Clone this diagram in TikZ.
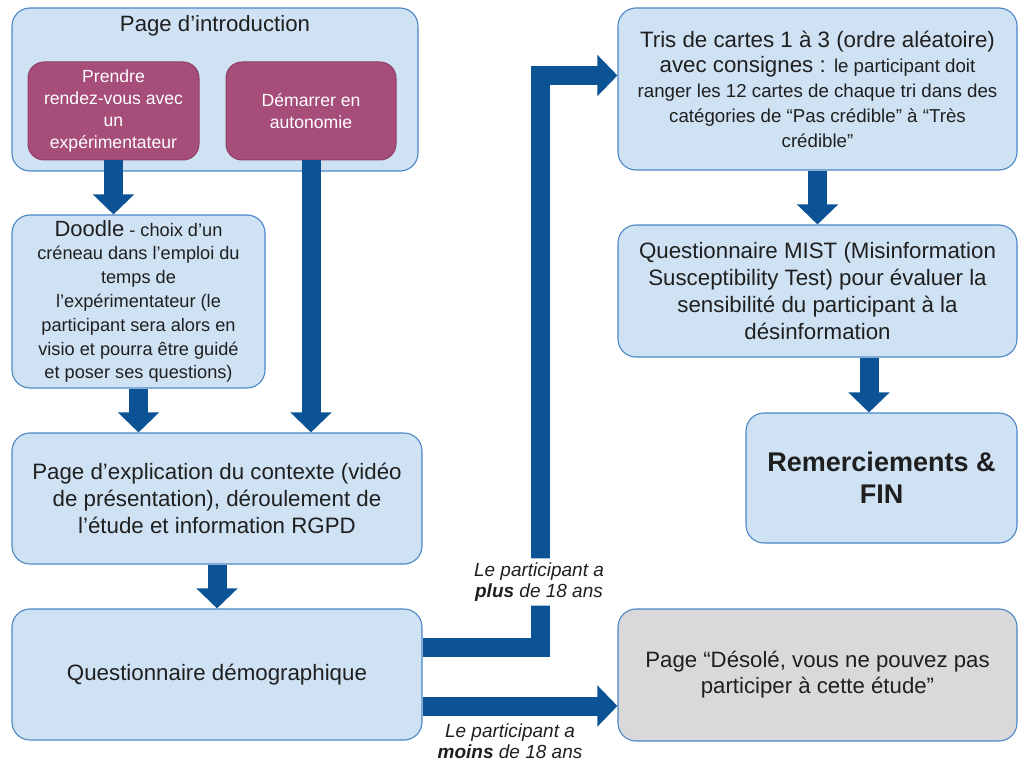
\documentclass[tikz,border=0pt]{standalone}
\usepackage{fontspec}
\setmainfont{Liberation Sans}
\usetikzlibrary{arrows.meta,calc}
\definecolor{boxfill}{HTML}{CFE2F3}
\definecolor{boxline}{HTML}{4A86C5}
\definecolor{purp}{HTML}{A64D79}
\definecolor{purpline}{HTML}{8E3F66}
\definecolor{grayfill}{HTML}{D9D9D9}
\definecolor{arrowblue}{HTML}{0B5394}
\definecolor{txt}{HTML}{1F1F1F}
\newcommand{\mainsz}{\fontsize{22.3}{27}\selectfont}
\newcommand{\smallsz}{\fontsize{18.7}{22.5}\selectfont}
\begin{document}
\begin{tikzpicture}[x=1pt,y=-1pt,
  box/.style={draw=boxline, line width=1.1pt, fill=boxfill, rounded corners=18pt,
    inner sep=0pt, align=center, text=txt, font=\mainsz},
  pbox/.style={draw=purpline, line width=1pt, fill=purp, rounded corners=16pt,
    inner sep=0pt, align=center, text=white, font=\fontsize{17.6}{22}\selectfont},
  gbox/.style={box, fill=grayfill},
  fat/.style={draw=arrowblue, line width=19pt, line cap=butt, line join=miter,
    -{Triangle[width=40pt,length=20pt]}},
  lbl/.style={fill=white, rounded corners=6pt, inner xsep=8pt, inner ysep=4pt,
    align=center, text=txt, font=\itshape\fontsize{19}{21.5}\selectfont}
]
\useasboundingbox (0,0) rectangle (1019,762);
\fill[white] (0,0) rectangle (1019,762);

% left column
\node[box, minimum width=406pt, minimum height=163pt] (intro) at (215,89.5) {};
\node[text=txt, font=\fontsize{22.2}{26}\selectfont] (introtitle) at (215,25.5) {Page d’introduction};
\node[pbox, minimum width=171pt, minimum height=98pt] (prendre) at (113.5,111)
  {Prendre\\rendez-vous avec\\un\\expérimentateur};
\node[pbox, minimum width=170pt, minimum height=98pt] (demarrer) at (311,111)
  {Démarrer en\\autonomie};
\node[box, minimum width=253pt, minimum height=173pt, font=\fontsize{18.2}{23.8}\selectfont] (doodle) at (138.5,301.5)
  {{\fontsize{22}{24}\selectfont Doodle} - choix d’un\\créneau dans l’emploi du\\temps de\\l’expérimentateur (le\\participant sera alors en\\visio et pourra être guidé\\et poser ses questions)};
\node[box, minimum width=410pt, minimum height=131pt] (explic) at (217,498.5)
  {Page d’explication du contexte (vidéo\\de présentation), déroulement de\\l’étude et information RGPD};
\node[box, minimum width=410pt, minimum height=131pt] (demo) at (217,674.5)
  {Questionnaire démographique};

% right column
\node[box, minimum width=399pt, minimum height=162pt, font=\fontsize{22.3}{25}\selectfont] (tris) at (817.5,89)
  {Tris de cartes 1 à 3 (ordre aléatoire)\\avec consignes : {\smallsz le participant doit}\\{\smallsz ranger les 12 cartes de chaque tri dans des}\\{\smallsz catégories de “Pas crédible” à “Très}\\{\smallsz crédible”}};
\node[box, minimum width=399pt, minimum height=132pt] (mist) at (817.5,291)
  {Questionnaire MIST (Misinformation\\Susceptibility Test) pour évaluer la\\sensibilité du participant à la\\désinformation};
\node[box, minimum width=271pt, minimum height=130pt, font=\bfseries\fontsize{27}{32}\selectfont] (remerc) at (881.5,478)
  {Remerciements \&\\FIN};
\node[gbox, minimum width=399pt, minimum height=132pt, font=\fontsize{22.2}{26}\selectfont] (desole) at (817.5,675)
  {Page “Désolé, vous ne pouvez pas\\participer à cette étude”};

% arrows
\draw[fat] (prendre.south) -- (prendre.south |- doodle.north);
\draw[fat] (demarrer.south) -- (demarrer.south |- explic.north);
\draw[fat] (doodle.south) -- (doodle.south |- explic.north);
\draw[fat] (explic.south) -- (demo.north);
\draw[fat] (tris.south) -- (tris.south |- mist.north);
\draw[fat] ([xshift=51.5pt]mist.south) -- ([xshift=-12.5pt]remerc.north);
\draw[fat] ([yshift=27pt]demo.east) -- ++(117.5,0) coordinate (elbow) |- ([yshift=13.5pt]tris.west);
\draw[fat] ([yshift=-31.5pt]demo.east) -- ([yshift=-31pt]desole.west);

% labels
\node[lbl] (lplus) at (539,582) {Le participant a\\\textbf{plus} de 18 ans};
\node[lbl, fill=none] (lmoins) at (510,741) {Le participant a\\\textbf{moins} de 18 ans};
\end{tikzpicture}
\end{document}
